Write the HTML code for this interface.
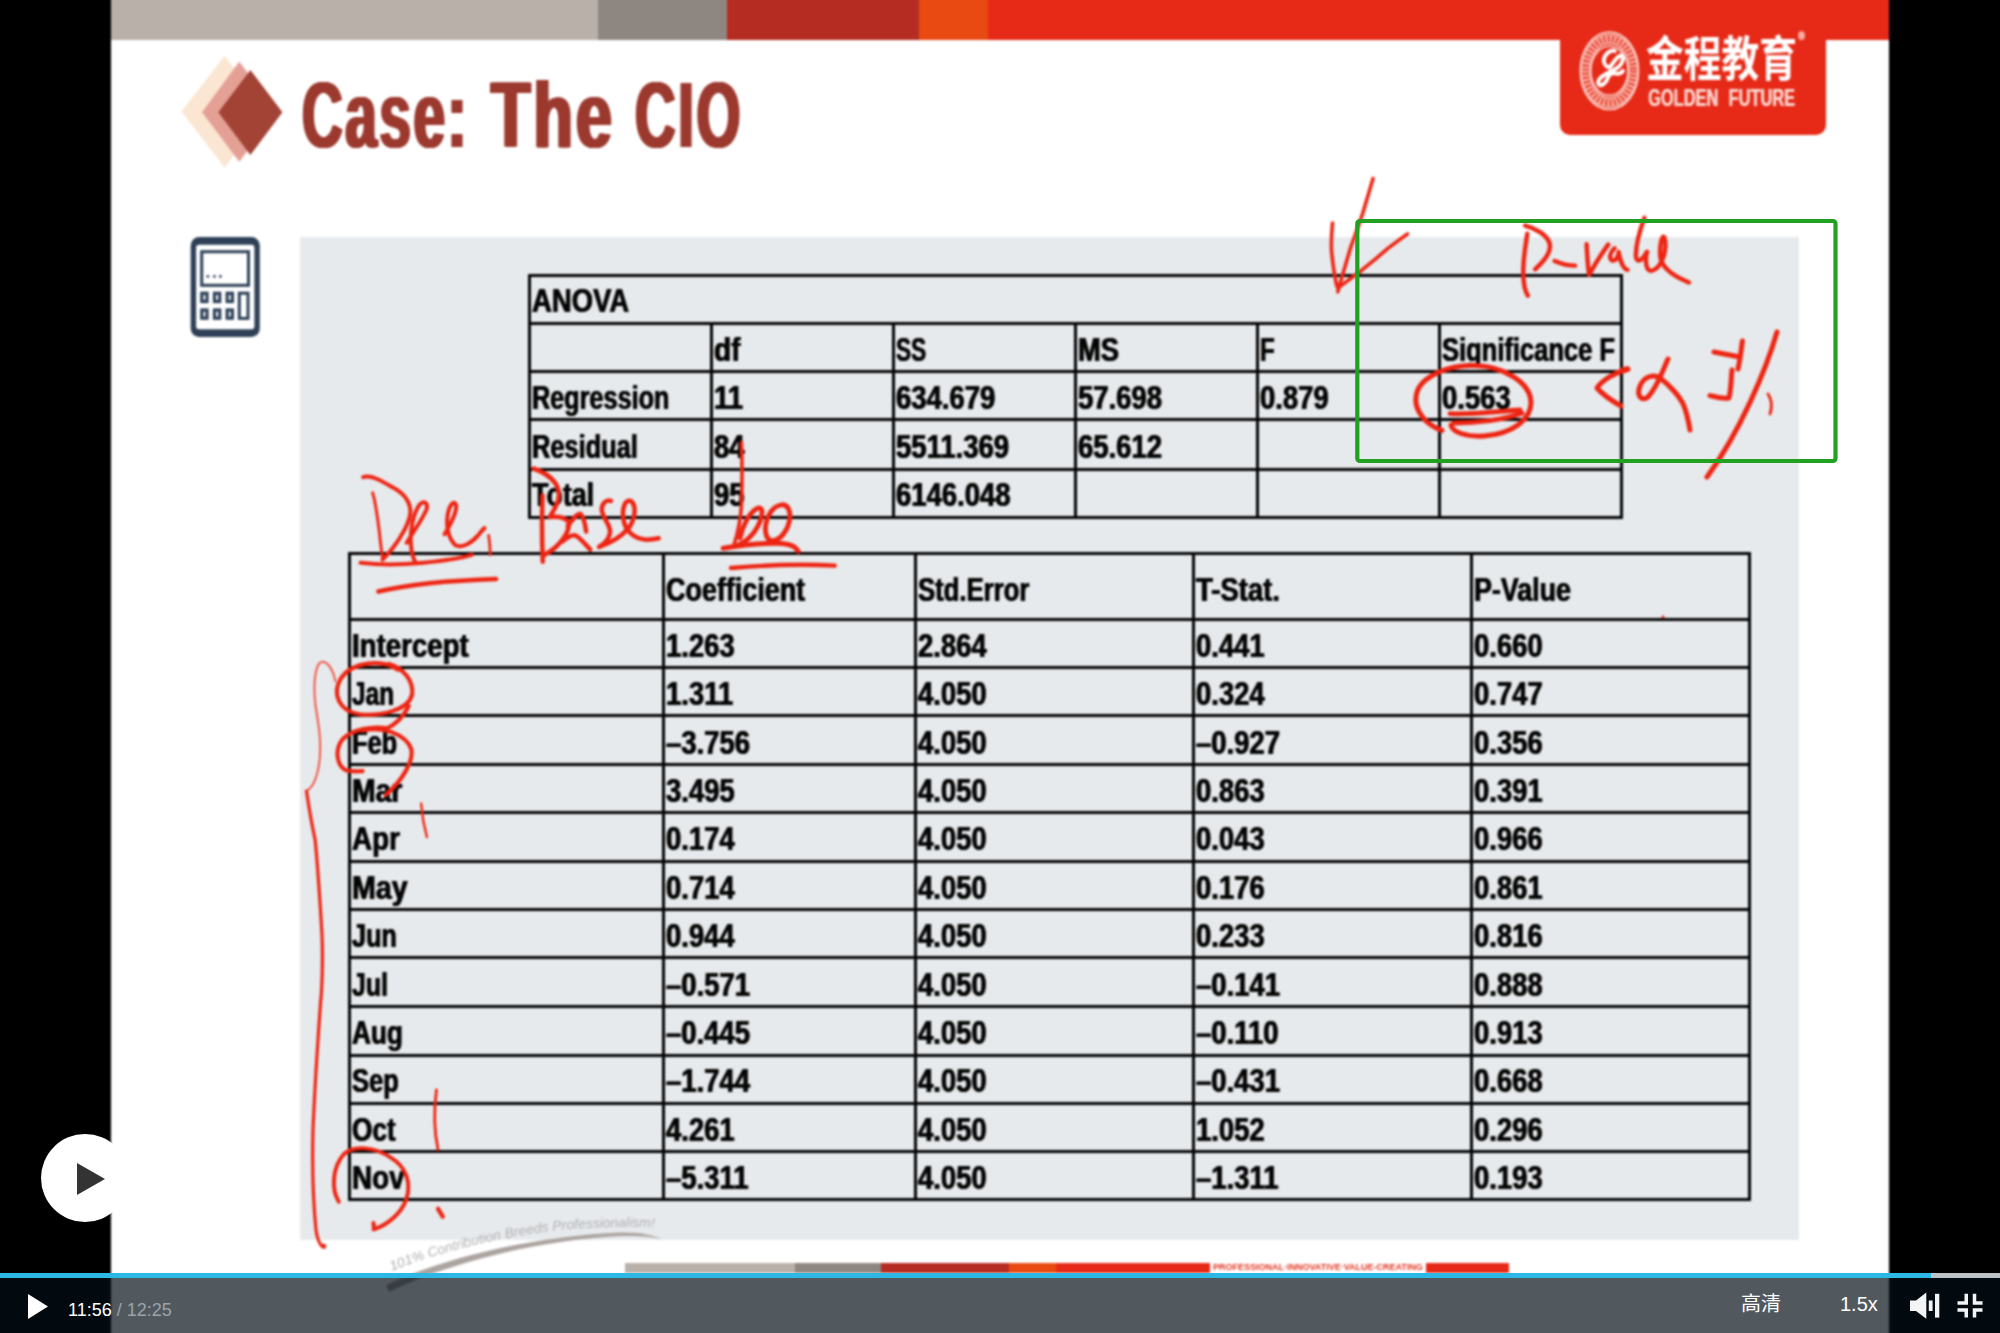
<!DOCTYPE html>
<html lang="zh">
<head>
<meta charset="utf-8">
<title>Case: The CIO</title>
<style>
html,body{margin:0;padding:0;background:#000;}
body{width:2000px;height:1333px;position:relative;overflow:hidden;font-family:"Liberation Sans","Noto Sans CJK SC",sans-serif;}
#stage{position:absolute;left:0;top:0;width:2000px;height:1333px;overflow:hidden;background:#000;}
#slide{position:absolute;left:111px;top:-12px;width:1778px;height:1357px;background:#fff;overflow:hidden;filter:blur(0.8px);}
#slide *{position:absolute;}
.bar{top:-12px;height:51.5px;}
#title{left:0;top:65px;width:900px;height:100px;}
#title span{top:0;font-weight:bold;font-size:92px;line-height:100px;color:#9c392e;white-space:nowrap;letter-spacing:4.5px;transform-origin:0 0;text-shadow:1.3px 0 #9c392e,-1.3px 0 #9c392e,2.6px 0 #9c392e,-2.6px 0 #9c392e;}
#panel{left:189px;top:237px;width:1499px;height:1003px;background:#e7eaec;}
.tbl i{background:#020304;display:block;}
.tbl .hl{left:0;width:100%;height:3px;}
.tbl .vl{top:0;width:3px;height:100%;}
.tbl .c{height:50px;line-height:50px;white-space:nowrap;font-weight:bold;font-size:33.5px;color:#050505;text-shadow:.5px 0 #050505,-.5px 0 #050505;}
.tbl .c .t{position:static;display:inline-block;transform-origin:0 50%;}
#logo{left:1449px;top:30px;width:266px;height:104.5px;background:#e62a17;border-radius:0 0 10px 10px;}
#cn{left:1535px;top:25px;font-size:48px;line-height:70px;font-weight:bold;color:#fff;white-space:nowrap;transform-origin:0 0;transform:scaleX(.787);}
#gf{left:1536.5px;top:84.3px;text-shadow:.5px 0 #fbd6cf;font-size:23px;line-height:28px;font-weight:bold;color:#fbd6cf;white-space:nowrap;transform-origin:0 0;transform:scaleX(.713);word-spacing:8px;}
#ctrl{position:absolute;left:0;top:1278px;width:2000px;height:55px;background:rgba(3,14,23,.69);}
#prog{position:absolute;left:0;top:1272.5px;width:2000px;height:5.5px;background:#bcc2c6;}
#prog b{position:absolute;left:0;top:0;height:5.5px;width:1931px;background:#2db7e5;display:block;}
#ctrl span{position:absolute;white-space:nowrap;color:#fff;font-size:18px;line-height:24px;}
#bigplay{position:absolute;left:41px;top:1134px;width:88px;height:88px;border-radius:50%;background:#fff;}
</style>
</head>
<body>
<div id="stage">
<div id="slide"><div id="sw" style="left:0;top:12px;width:1778px;height:1333px">
  <div class="bar" style="left:0;width:487px;background:#b9b0aa"></div>
  <div class="bar" style="left:487px;width:129px;background:#8e8680"></div>
  <div class="bar" style="left:616px;width:192px;background:#b52d22"></div>
  <div class="bar" style="left:808px;width:69px;background:#e84a12"></div>
  <div class="bar" style="left:877px;width:901px;background:#e62a17"></div>
  <svg style="left:60px;top:40px" width="130" height="140" viewBox="171 40 130 140">
    <polygon points="181.6,111.6 224.6,55.8 267.6,111.6 224.6,167.6" fill="#fae6d2"/>
    <polygon points="202,112.3 239.3,61.5 276.6,112.3 239.3,161.8" fill="#e5a096"/>
    <polygon points="218.3,112.3 250.4,69.9 282.4,112.3 250.4,155" fill="#a24336"/>
  </svg>
  <div id="title"><span style="left:191px;transform:scaleX(.612)">Case:</span> <span style="left:379.5px;transform:scaleX(.70)">The</span> <span style="left:523.5px;transform:scaleX(.61)">CIO</span></div>
  <div id="logo"></div>
  <svg style="left:1459px;top:25px" width="80" height="92" viewBox="1570 25 80 92">
    <ellipse cx="1609.4" cy="70.8" rx="24" ry="31.8" fill="none" stroke="#f6a99e" stroke-width="10.5"/>
    <ellipse cx="1609.4" cy="70.8" rx="24" ry="31.8" fill="none" stroke="#e8331f" stroke-width="7" stroke-dasharray="1.6 2.6"/>
    <ellipse cx="1609.4" cy="70.8" rx="29" ry="38.6" fill="none" stroke="#fbd3cc" stroke-width="1.8"/>
    <ellipse cx="1609.4" cy="70.8" rx="18.6" ry="24.6" fill="none" stroke="#fbd3cc" stroke-width="1.6"/>
    <g transform="translate(1570 30) scale(0.06378)" fill="none" stroke="#fff" stroke-width="62" stroke-linecap="round" stroke-linejoin="round">
      <path d="M700,330 C640,300 540,380 530,470 C525,540 580,580 620,590 C680,520 740,400 800,400 C850,420 830,520 760,580 C700,630 620,650 560,690 C480,740 420,800 450,850 C480,890 560,840 590,760 C610,700 640,670 700,680 C760,695 810,670 830,640"/>
    </g>
  </svg>
  <div id="cn">金程教育</div>
  <div id="gf">GOLDEN FUTURE</div>
  <div style="left:1687px;top:31px;width:7px;height:9px;border-radius:50%;background:#f6a99e"></div>
  <svg style="left:75px;top:232px" width="80" height="110" viewBox="186 232 80 110">
    <rect x="190.7" y="237" width="69.1" height="100" rx="8.5" fill="#2e4057"/>
    <rect x="196.1" y="244.8" width="58.3" height="84.4" rx="3" fill="#fff"/>
    <rect x="201.7" y="251.7" width="46.8" height="33.6" fill="#fff" stroke="#2e4057" stroke-width="3"/>
    <circle cx="207.9" cy="276.4" r="1.4" fill="#2e4057"/><circle cx="214.4" cy="276.4" r="1.4" fill="#2e4057"/><circle cx="220.4" cy="276.4" r="1.4" fill="#2e4057"/>
    <g fill="#fff" stroke="#2e4057" stroke-width="3.2">
      <rect x="201.8" y="293.3" width="5.2" height="8.2"/><rect x="214.5" y="293.3" width="5.2" height="8.2"/><rect x="227.2" y="293.3" width="5.2" height="8.2"/>
      <rect x="201.8" y="310" width="5.2" height="8.2"/><rect x="214.5" y="310" width="5.2" height="8.2"/><rect x="227.2" y="310" width="5.2" height="8.2"/>
      <rect x="239.3" y="293.2" width="8.7" height="25.2" stroke-width="3"/>
    </g>
  </svg>
  <div id="panel"></div>
  <div id="tables" style="left:-111px;top:0;width:2000px;height:1333px">
  <div class="tbl anova" style="left:528px;top:274px;width:1095px;height:245px">
<i class="hl" style="top:0px"></i>
<i class="hl" style="top:48px"></i>
<i class="hl" style="top:96px"></i>
<i class="hl" style="top:144px"></i>
<i class="hl" style="top:194px"></i>
<i class="hl" style="top:242px"></i>
<i class="vl" style="left:0px"></i>
<i class="vl" style="left:182px;top:48px;height:197px"></i>
<i class="vl" style="left:364px;top:48px;height:197px"></i>
<i class="vl" style="left:546px;top:48px;height:197px"></i>
<i class="vl" style="left:728px;top:48px;height:197px"></i>
<i class="vl" style="left:910px;top:48px;height:197px"></i>
<i class="vl" style="left:1092px"></i>
<div class="c" style="left:3.5px;top:2.19px"><span class="t" style="transform:scaleX(0.82)">ANOVA</span></div>
<div class="c" style="left:185.5px;top:50.69px"><span class="t" style="transform:scaleX(0.84)">df</span></div>
<div class="c" style="left:367.5px;top:50.69px"><span class="t" style="transform:scaleX(0.675)">SS</span></div>
<div class="c" style="left:549.5px;top:50.69px"><span class="t" style="transform:scaleX(0.815)">MS</span></div>
<div class="c" style="left:731.5px;top:50.69px"><span class="t" style="transform:scaleX(0.724)">F</span></div>
<div class="c" style="left:913.5px;top:50.69px"><span class="t" style="transform:scaleX(0.762)">Significance F</span></div>
<div class="c" style="left:3.5px;top:99.19px"><span class="t" style="transform:scaleX(0.753)">Regression</span></div>
<div class="c" style="left:185.5px;top:99.19px"><span class="t" style="transform:scaleX(0.82)">11</span></div>
<div class="c" style="left:367.5px;top:99.19px"><span class="t" style="transform:scaleX(0.82)">634.679</span></div>
<div class="c" style="left:549.5px;top:99.19px"><span class="t" style="transform:scaleX(0.82)">57.698</span></div>
<div class="c" style="left:731.5px;top:99.19px"><span class="t" style="transform:scaleX(0.82)">0.879</span></div>
<div class="c" style="left:913.5px;top:99.19px"><span class="t" style="transform:scaleX(0.82)">0.563</span></div>
<div class="c" style="left:3.5px;top:148.19px"><span class="t" style="transform:scaleX(0.758)">Residual</span></div>
<div class="c" style="left:185.5px;top:148.19px"><span class="t" style="transform:scaleX(0.82)">84</span></div>
<div class="c" style="left:367.5px;top:148.19px"><span class="t" style="transform:scaleX(0.82)">5511.369</span></div>
<div class="c" style="left:549.5px;top:148.19px"><span class="t" style="transform:scaleX(0.82)">65.612</span></div>
<div class="c" style="left:3.5px;top:196.19px"><span class="t" style="transform:scaleX(0.801)">Total</span></div>
<div class="c" style="left:185.5px;top:196.19px"><span class="t" style="transform:scaleX(0.82)">95</span></div>
<div class="c" style="left:367.5px;top:196.19px"><span class="t" style="transform:scaleX(0.82)">6146.048</span></div>
</div>
  <div class="tbl coef" style="left:348px;top:552px;width:1403px;height:649px">
<i class="hl" style="top:0px"></i>
<i class="hl" style="top:66px"></i>
<i class="hl" style="top:114px"></i>
<i class="hl" style="top:162px"></i>
<i class="hl" style="top:211px"></i>
<i class="hl" style="top:259px"></i>
<i class="hl" style="top:308px"></i>
<i class="hl" style="top:356px"></i>
<i class="hl" style="top:404px"></i>
<i class="hl" style="top:453px"></i>
<i class="hl" style="top:502px"></i>
<i class="hl" style="top:550px"></i>
<i class="hl" style="top:598px"></i>
<i class="hl" style="top:646px"></i>
<i class="vl" style="left:0px"></i>
<i class="vl" style="left:314px"></i>
<i class="vl" style="left:566px"></i>
<i class="vl" style="left:844px"></i>
<i class="vl" style="left:1122px"></i>
<i class="vl" style="left:1400px"></i>
<div class="c" style="left:317.5px;top:12.59px"><span class="t" style="transform:scaleX(0.804)">Coefficient</span></div>
<div class="c" style="left:569.5px;top:12.59px"><span class="t" style="transform:scaleX(0.767)">Std.Error</span></div>
<div class="c" style="left:847.5px;top:12.59px"><span class="t" style="transform:scaleX(0.82)">T-Stat.</span></div>
<div class="c" style="left:1125.5px;top:12.59px"><span class="t" style="transform:scaleX(0.801)">P-Value</span></div>
<div class="c" style="left:3.5px;top:68.69px"><span class="t" style="transform:scaleX(0.825)">Intercept</span></div>
<div class="c" style="left:317.5px;top:68.69px"><span class="t" style="transform:scaleX(0.82)">1.263</span></div>
<div class="c" style="left:569.5px;top:68.69px"><span class="t" style="transform:scaleX(0.82)">2.864</span></div>
<div class="c" style="left:847.5px;top:68.69px"><span class="t" style="transform:scaleX(0.82)">0.441</span></div>
<div class="c" style="left:1125.5px;top:68.69px"><span class="t" style="transform:scaleX(0.82)">0.660</span></div>
<div class="c" style="left:3.5px;top:117.19px"><span class="t" style="transform:scaleX(0.729)">Jan</span></div>
<div class="c" style="left:317.5px;top:117.19px"><span class="t" style="transform:scaleX(0.82)">1.311</span></div>
<div class="c" style="left:569.5px;top:117.19px"><span class="t" style="transform:scaleX(0.82)">4.050</span></div>
<div class="c" style="left:847.5px;top:117.19px"><span class="t" style="transform:scaleX(0.82)">0.324</span></div>
<div class="c" style="left:1125.5px;top:117.19px"><span class="t" style="transform:scaleX(0.82)">0.747</span></div>
<div class="c" style="left:3.5px;top:165.69px"><span class="t" style="transform:scaleX(0.758)">Feb</span></div>
<div class="c" style="left:317.5px;top:165.69px"><span class="t" style="transform:scaleX(0.82)">–3.756</span></div>
<div class="c" style="left:569.5px;top:165.69px"><span class="t" style="transform:scaleX(0.82)">4.050</span></div>
<div class="c" style="left:847.5px;top:165.69px"><span class="t" style="transform:scaleX(0.82)">–0.927</span></div>
<div class="c" style="left:1125.5px;top:165.69px"><span class="t" style="transform:scaleX(0.82)">0.356</span></div>
<div class="c" style="left:3.5px;top:213.69px"><span class="t" style="transform:scaleX(0.844)">Mar</span></div>
<div class="c" style="left:317.5px;top:213.69px"><span class="t" style="transform:scaleX(0.82)">3.495</span></div>
<div class="c" style="left:569.5px;top:213.69px"><span class="t" style="transform:scaleX(0.82)">4.050</span></div>
<div class="c" style="left:847.5px;top:213.69px"><span class="t" style="transform:scaleX(0.82)">0.863</span></div>
<div class="c" style="left:1125.5px;top:213.69px"><span class="t" style="transform:scaleX(0.82)">0.391</span></div>
<div class="c" style="left:3.5px;top:262.19px"><span class="t" style="transform:scaleX(0.83)">Apr</span></div>
<div class="c" style="left:317.5px;top:262.19px"><span class="t" style="transform:scaleX(0.82)">0.174</span></div>
<div class="c" style="left:569.5px;top:262.19px"><span class="t" style="transform:scaleX(0.82)">4.050</span></div>
<div class="c" style="left:847.5px;top:262.19px"><span class="t" style="transform:scaleX(0.82)">0.043</span></div>
<div class="c" style="left:1125.5px;top:262.19px"><span class="t" style="transform:scaleX(0.82)">0.966</span></div>
<div class="c" style="left:3.5px;top:310.69px"><span class="t" style="transform:scaleX(0.854)">May</span></div>
<div class="c" style="left:317.5px;top:310.69px"><span class="t" style="transform:scaleX(0.82)">0.714</span></div>
<div class="c" style="left:569.5px;top:310.69px"><span class="t" style="transform:scaleX(0.82)">4.050</span></div>
<div class="c" style="left:847.5px;top:310.69px"><span class="t" style="transform:scaleX(0.82)">0.176</span></div>
<div class="c" style="left:1125.5px;top:310.69px"><span class="t" style="transform:scaleX(0.82)">0.861</span></div>
<div class="c" style="left:3.5px;top:359.19px"><span class="t" style="transform:scaleX(0.753)">Jun</span></div>
<div class="c" style="left:317.5px;top:359.19px"><span class="t" style="transform:scaleX(0.82)">0.944</span></div>
<div class="c" style="left:569.5px;top:359.19px"><span class="t" style="transform:scaleX(0.82)">4.050</span></div>
<div class="c" style="left:847.5px;top:359.19px"><span class="t" style="transform:scaleX(0.82)">0.233</span></div>
<div class="c" style="left:1125.5px;top:359.19px"><span class="t" style="transform:scaleX(0.82)">0.816</span></div>
<div class="c" style="left:3.5px;top:407.69px"><span class="t" style="transform:scaleX(0.743)">Jul</span></div>
<div class="c" style="left:317.5px;top:407.69px"><span class="t" style="transform:scaleX(0.82)">–0.571</span></div>
<div class="c" style="left:569.5px;top:407.69px"><span class="t" style="transform:scaleX(0.82)">4.050</span></div>
<div class="c" style="left:847.5px;top:407.69px"><span class="t" style="transform:scaleX(0.82)">–0.141</span></div>
<div class="c" style="left:1125.5px;top:407.69px"><span class="t" style="transform:scaleX(0.82)">0.888</span></div>
<div class="c" style="left:3.5px;top:456.19px"><span class="t" style="transform:scaleX(0.782)">Aug</span></div>
<div class="c" style="left:317.5px;top:456.19px"><span class="t" style="transform:scaleX(0.82)">–0.445</span></div>
<div class="c" style="left:569.5px;top:456.19px"><span class="t" style="transform:scaleX(0.82)">4.050</span></div>
<div class="c" style="left:847.5px;top:456.19px"><span class="t" style="transform:scaleX(0.82)">–0.110</span></div>
<div class="c" style="left:1125.5px;top:456.19px"><span class="t" style="transform:scaleX(0.82)">0.913</span></div>
<div class="c" style="left:3.5px;top:504.19px"><span class="t" style="transform:scaleX(0.762)">Sep</span></div>
<div class="c" style="left:317.5px;top:504.19px"><span class="t" style="transform:scaleX(0.82)">–1.744</span></div>
<div class="c" style="left:569.5px;top:504.19px"><span class="t" style="transform:scaleX(0.82)">4.050</span></div>
<div class="c" style="left:847.5px;top:504.19px"><span class="t" style="transform:scaleX(0.82)">–0.431</span></div>
<div class="c" style="left:1125.5px;top:504.19px"><span class="t" style="transform:scaleX(0.82)">0.668</span></div>
<div class="c" style="left:3.5px;top:552.69px"><span class="t" style="transform:scaleX(0.782)">Oct</span></div>
<div class="c" style="left:317.5px;top:552.69px"><span class="t" style="transform:scaleX(0.82)">4.261</span></div>
<div class="c" style="left:569.5px;top:552.69px"><span class="t" style="transform:scaleX(0.82)">4.050</span></div>
<div class="c" style="left:847.5px;top:552.69px"><span class="t" style="transform:scaleX(0.82)">1.052</span></div>
<div class="c" style="left:1125.5px;top:552.69px"><span class="t" style="transform:scaleX(0.82)">0.296</span></div>
<div class="c" style="left:3.5px;top:601.19px"><span class="t" style="transform:scaleX(0.83)">Nov</span></div>
<div class="c" style="left:317.5px;top:601.19px"><span class="t" style="transform:scaleX(0.82)">–5.311</span></div>
<div class="c" style="left:569.5px;top:601.19px"><span class="t" style="transform:scaleX(0.82)">4.050</span></div>
<div class="c" style="left:847.5px;top:601.19px"><span class="t" style="transform:scaleX(0.82)">–1.311</span></div>
<div class="c" style="left:1125.5px;top:601.19px"><span class="t" style="transform:scaleX(0.82)">0.193</span></div>
</div>
  </div>
  <svg style="left:-111px;top:0" width="2000" height="1333" viewBox="0 0 2000 1333">
  <g fill="none" stroke="#ee2412" stroke-linecap="round" stroke-linejoin="round">
  <!-- check arrow -->
  <g transform="translate(1300 160) scale(0.21)" stroke-width="17">
    <path d="M348,88 C330,150 315,200 300,250 C280,310 260,365 240,420 C220,490 198,560 180,628"/>
    <path d="M155,300 C150,350 148,390 150,430 C155,490 165,550 175,600"/>
    <path d="M180,610 C220,580 260,550 300,520 C340,488 380,455 420,420 C455,393 485,370 512,352"/>
  </g>
  <!-- P-value -->
  <g transform="translate(1500 210) scale(0.105)" stroke-width="42">
    <path d="M260,225 C245,330 225,430 222,560 C220,660 235,770 265,815"/>
    <path d="M240,148 C330,170 460,240 475,330 C485,420 400,500 335,565"/>
    <path d="M520,485 C580,510 650,530 715,530"/>
    <path d="M825,325 C830,420 835,540 850,620 C900,520 980,400 1030,330"/>
    <path d="M1090,365 C1050,400 1035,460 1065,480 C1110,490 1130,430 1130,400 C1140,470 1170,560 1215,570"/>
    <path d="M1375,75 C1330,200 1290,330 1295,440 C1300,500 1340,500 1400,400"/>
    <path d="M1400,400 C1380,480 1390,580 1440,580 C1540,560 1600,380 1565,260 C1545,230 1520,330 1525,430 C1530,540 1650,630 1800,690"/>
  </g>
  <!-- circle 0.563, < alpha 5% -->
  <g transform="translate(1400 320) scale(0.2)" stroke-width="25">
    <path d="M210,552 C120,520 60,440 85,360 C110,280 250,220 380,228 C520,235 650,310 655,410 C655,500 560,570 420,580 C330,585 260,560 255,525"/>
    <path d="M250,468 C350,475 500,455 600,450" stroke-width="24"/>
    <path d="M270,515 C380,515 520,500 610,465" stroke-width="24"/>
    <path d="M1140,245 C1080,260 1010,300 985,340 C1020,380 1070,410 1105,430"/>
    <path d="M1115,252 L1135,246" stroke-width="30"/>
    <path d="M1340,195 C1310,260 1290,330 1240,385 C1210,410 1180,380 1200,330 C1220,280 1270,270 1300,290 C1340,320 1400,380 1420,430 C1435,470 1445,520 1450,550"/>
    <path d="M1712,105 C1705,160 1700,200 1690,245"/>
    <path d="M1570,160 L1700,185"/>
    <path d="M1660,250 C1655,300 1655,350 1645,390 C1610,395 1580,385 1550,378"/>
    <path d="M1885,60 C1830,250 1700,560 1535,785"/>
    <path d="M1840,370 C1860,400 1860,440 1850,470" stroke-width="14"/>
  </g>
  <!-- Dec, -->
  <g transform="translate(350 465) scale(0.10505)" stroke-width="38">
    <path d="M215,265 C240,330 260,480 280,640 C290,740 300,820 310,880" stroke-width="28"/>
    <path d="M125,115 C200,90 300,150 400,210 C500,260 570,340 575,440 C575,540 480,700 400,800 C360,850 330,880 310,900"/>
    <path d="M540,740 C600,640 700,500 730,420 C745,360 700,330 660,380 C600,470 570,620 580,760 C585,830 600,880 620,920"/>
    <path d="M900,660 C960,560 1020,440 1010,380 C1000,340 960,360 940,430 C910,530 920,680 1000,760 C1060,800 1160,740 1220,670 C1250,630 1270,610 1280,600"/>
    <path d="M1320,670 C1330,730 1335,800 1335,855" stroke-width="26"/>
    <path d="M100,930 C250,950 500,950 700,930 C900,910 1080,880 1160,855"/>
    <path d="M270,1205 C500,1150 900,1100 1390,1085" stroke-width="44"/>
  </g>
  <!-- Base -->
  <g transform="translate(520 455) scale(0.09004)" stroke-width="50">
    <path d="M250,450 C245,600 240,850 253,1185"/>
    <path d="M150,150 C240,180 330,230 390,310 C440,380 440,470 410,540 C390,600 350,650 330,690 C400,680 480,690 530,730 C560,770 540,830 500,900 C450,980 370,1060 270,1110"/>
    <path d="M530,790 C580,720 630,650 670,655 C710,680 725,780 735,850"/>
    <path d="M470,960 C530,910 580,880 620,895 C680,930 730,1000 780,1050"/>
    <path d="M1010,510 C960,490 900,540 910,620 C930,720 1010,780 1000,860 C990,930 930,990 880,1020"/>
    <path d="M880,1020 C1000,980 1130,900 1200,820 C1280,720 1300,560 1230,510 C1160,490 1130,600 1150,720 C1170,840 1260,930 1400,940 C1460,940 1500,935 1540,925"/>
  </g>
  <!-- b0 -->
  <g transform="translate(710 430) scale(0.12)" stroke-width="36">
    <path d="M262,105 C268,250 268,450 262,620 C258,720 240,830 200,960" stroke-width="30"/>
    <path d="M250,900 C270,800 330,680 400,650 C450,640 440,720 400,800 C360,880 290,940 230,960" stroke-width="40"/>
    <path d="M590,625 C500,640 440,780 470,880 C500,960 600,920 650,800 C690,690 650,610 590,625" stroke-width="40"/>
    <path d="M110,985 C250,960 450,940 600,945 C680,950 720,980 735,1010" stroke-width="42"/>
    <path d="M175,1150 C400,1130 750,1115 1040,1130"/>
  </g>
  <!-- brace + Jan/Feb circles -->
  <g transform="translate(290 640) scale(0.165)" stroke-width="25">
    <path d="M275,250 C260,170 220,120 185,135 C150,160 140,280 155,400 C175,520 195,640 175,760 C160,850 130,900 100,915" stroke-width="11" stroke="#ef4a3a"/>
    <path d="M655,180 C560,115 380,130 310,230 C250,330 300,430 420,450 C560,465 720,420 740,330 C750,250 690,170 600,145"/>
    <path d="M720,400 C690,460 640,510 590,535"/>
    <path d="M590,535 C500,520 380,540 320,600 C270,660 280,760 340,790 C380,800 420,795 440,795"/>
    <path d="M440,550 C560,520 700,570 735,660 C750,740 680,850 580,940"/>
    <path d="M795,990 C800,1060 815,1140 830,1195" stroke-width="14"/>
  </g>
  <path d="M306.5,791 C310,815 313,830 315.2,840 C318,870 320,900 322,935 C323,960 322,990 320.6,1002 C318,1040 315,1080 313,1130 C312,1170 313,1200 316,1230 C318,1242 321,1247 324.5,1247" stroke-width="3.2"/>
  <circle cx="323.500" cy="1246" r="2.6" fill="#ee2412" stroke="none"/>
  <!-- Nov circle etc -->
  <g transform="translate(290 1060) scale(0.1575)" stroke-width="25">
    <path d="M310,900 C260,820 270,680 340,600 C400,540 540,550 640,620 C740,680 770,780 740,880 C710,970 620,1050 530,1075" />
    <path d="M530,1035 L535,1075" stroke-width="26"/>
    <path d="M930,190 C915,300 915,450 940,570" stroke-width="18"/>
    <path d="M940,945 L970,995" stroke-width="27"/>
  </g>
  <circle cx="1663" cy="617" r="1.4" fill="#ee2412" stroke="none"/>
</g>

  </svg>
  <!-- footer decorations -->
  <div style="left:514px;top:1263px;width:256px;height:10px;background:#b9b0aa"></div>
  <div style="left:684px;top:1263px;width:86px;height:10px;background:#8e8680"></div>
  <div style="left:770px;top:1263px;width:128px;height:10px;background:#b52d22"></div>
  <div style="left:898px;top:1263px;width:47px;height:10px;background:#e84a12"></div>
  <div style="left:945px;top:1263px;width:154px;height:10px;background:#e62a17"></div>
  <div style="left:1099px;top:1262px;width:216px;height:11px;background:#fff"></div>
  <div style="left:1102px;top:1262px;font-size:9px;line-height:11px;font-weight:bold;color:#e0341f;white-space:nowrap;transform-origin:0 0;transform:scaleX(1)">PROFESSIONAL·INNOVATIVE·VALUE-CREATING</div>
  <div style="left:1315px;top:1263px;width:83px;height:10px;background:#e62a17"></div>
  <svg style="left:259px;top:1200px" width="320" height="110" viewBox="370 1200 320 110">
    <path d="M386,1285 C450,1255 540,1236 620,1232.500 C640,1232 652,1235 662,1239 C650,1236.500 640,1235.500 620,1236 C540,1240 450,1262 389,1292 Z" fill="#aca4a1"/>
    <path id="swp" d="M392,1271 C440,1251 520,1231.500 580,1228.500 S640,1227 662,1228.500" fill="none"/>
    <text font-size="13.5" font-style="italic" fill="#b0b0b3" textLength="268" lengthAdjust="spacingAndGlyphs"><textPath href="#swp" textLength="268" lengthAdjust="spacingAndGlyphs">101% Contribution Breeds Professionalism!</textPath></text>
  </svg>
</div></div>
<svg id="ann" style="position:absolute;left:0;top:0" width="2000" height="1333" viewBox="0 0 2000 1333">
  <rect x="1357.3" y="221" width="478.2" height="240" rx="2.5" fill="none" stroke="#22a022" stroke-width="4.2"/>
</svg>
<div id="bigplay"><svg width="88" height="88" viewBox="0 0 88 88" style="position:absolute;left:0;top:0"><path d="M36 29 L36 61 L64 45 Z" fill="#333"/></svg></div>
<div id="prog"><b></b></div>
<div id="ctrl">
  <svg style="position:absolute;left:26px;top:14px" width="26" height="30" viewBox="0 0 26 30"><path d="M2 2 L2 27 L22 14.500 Z" fill="#fff"/></svg>
  <span style="left:68px;top:20px;">11:56 <span style="position:static;color:#9aa3aa">/ 12:25</span></span>
  <span style="left:1741px;top:14px;font-size:20px">高清</span>
  <span style="left:1840px;top:14px;font-size:20px">1.5x</span>
  <svg style="position:absolute;left:1900px;top:0" width="100" height="55" viewBox="1900 1278 100 55">
    <path d="M1910,1300.500 H1916 L1926.300,1292.500 V1318.800 L1916,1311 H1910 Z" fill="#f2f4f5"/>
    <rect x="1928.800" y="1300.500" width="3.800" height="10.500" fill="#f2f4f5"/>
    <rect x="1935" y="1293.800" width="4.300" height="23.800" fill="#f2f4f5"/>
    <path d="M1957.500,1303 H1966.250 V1293.800 M1974.500,1293.800 V1303 H1982.500 M1982.500,1310 H1974.500 V1317.500 M1966.250,1317.500 V1310 H1957.500" fill="none" stroke="#f2f4f5" stroke-width="3.500"/>
  </svg>
</div>
</div>
</body>
</html>
